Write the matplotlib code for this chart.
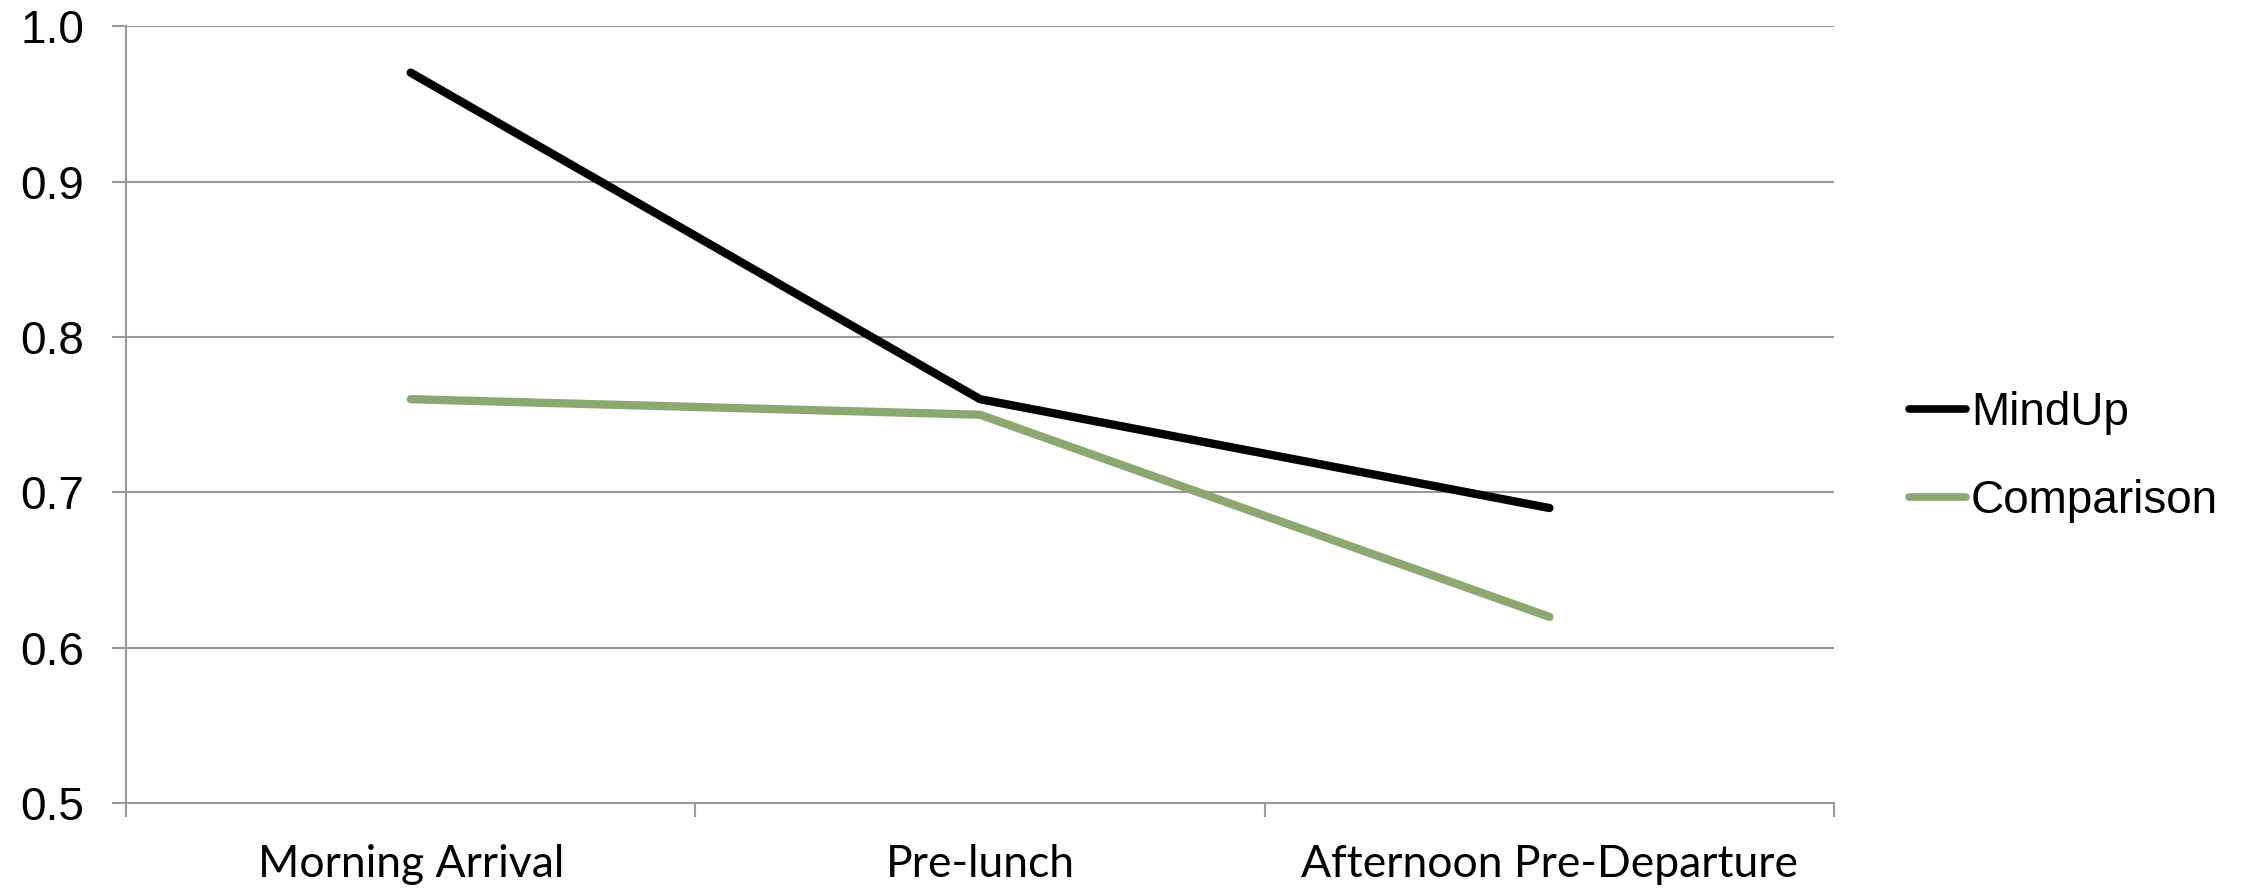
import matplotlib
matplotlib.use("Agg")
import matplotlib.pyplot as plt

# Data
categories = ['Morning Arrival', 'Pre-lunch', 'Afternoon Pre-Departure']
mindup = [0.97, 0.76, 0.69]
comparison = [0.76, 0.75, 0.62]
y_ticks = [0.5, 0.6, 0.7, 0.8, 0.9, 1.0]

fig = plt.figure(figsize=(22.43, 8.88), dpi=100)
ax = fig.add_axes([0.0562, 0.0952, 0.8177 - 0.0562, 0.9707 - 0.0952])

x = range(len(categories))
ax.plot(x, mindup, color='black', lw=6, solid_capstyle='round', label='MindUp')
ax.plot(x, comparison, color='#8ba870', lw=6, solid_capstyle='round', label='Comparison')

ax.set_xlim(-0.5, len(categories) - 0.5)
ax.set_ylim(0.5, 1.0)

# Grid and spines
grey = '#999999'
ax.set_yticks(y_ticks)
ax.set_yticklabels([f'{v:.1f}' for v in y_ticks], fontsize=33, family='Liberation Sans')
ax.yaxis.grid(True, color=grey, lw=1.5)
ax.set_axisbelow(True)
for s in ['top', 'right']:
    ax.spines[s].set_visible(False)
ax.spines['left'].set_color(grey)
ax.spines['left'].set_linewidth(1.5)
ax.spines['bottom'].set_color(grey)
ax.spines['bottom'].set_linewidth(1.5)
ax.tick_params(axis='y', length=10, width=1.5, color=grey, pad=20)

# Category ticks between groups, labels centered
ax.set_xticks([-0.5, 0.5, 1.5, 2.5])
ax.set_xticklabels([])
ax.set_xticks(list(x), minor=True)
ax.set_xticklabels(categories, minor=True, fontsize=32, family=['Lato', 'DejaVu Sans'])
ax.tick_params(axis='x', which='major', length=10, width=1.5, color=grey)
ax.tick_params(axis='x', which='minor', length=0, pad=29)

leg = fig.legend(loc='center left', bbox_to_anchor=(1909 / 2243, 1 - 457 / 888),
                 frameon=False, prop={'family': 'Liberation Sans', 'size': 33},
                 handlelength=1.25, handletextpad=0.1, labelspacing=0.95,
                 borderpad=0, borderaxespad=0)
for line in leg.get_lines():
    line.set_linewidth(5.5)

fig.savefig('out.png', dpi=100)
